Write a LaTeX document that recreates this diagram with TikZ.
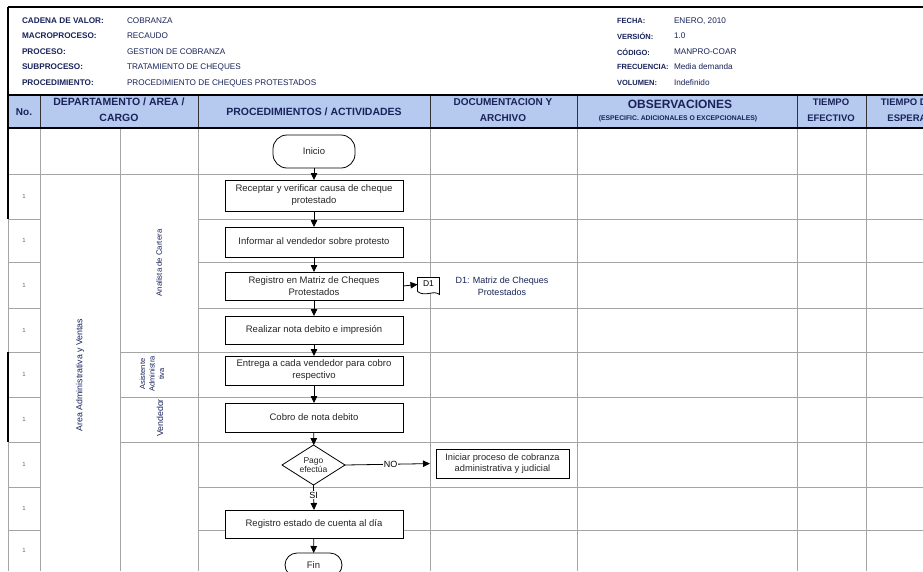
\documentclass[tikz,border=0pt]{standalone}
\usepackage{fontspec}
\setmainfont{Liberation Sans}
\usetikzlibrary{shapes.geometric,arrows.meta,calc}
\definecolor{navy}{RGB}{25,35,90}
\definecolor{hdrblue}{RGB}{182,201,238}
\definecolor{gridgray}{RGB}{165,165,165}
\newcommand{\sz}[2]{\fontsize{#1}{#2}\selectfont}
\begin{document}
\begin{tikzpicture}[x=1pt,y=-1pt,
  every node/.style={inner sep=0pt, outer sep=0pt},
  grid/.style={draw=gridgray, line width=0.7pt},
  hdrsep/.style={draw=black!80, line width=0.9pt},
  proc/.style={draw, line width=0.8pt, fill=white, minimum width=178pt, align=center, font=\sz{9.5}{12}, text=black!85},
  term/.style={draw, line width=0.8pt, fill=white, rounded corners=12pt, font=\sz{9.5}{10}, text=black!85},
  decision/.style={draw, diamond, line width=0.8pt, fill=white, minimum width=63pt, minimum height=40pt, aspect=1.6, align=center, font=\sz{8.5}{9.5}, text=black!85},
  flow/.style={-{Triangle[length=7pt,width=6.5pt]}, line width=0.8pt},
  hdr/.style={font=\bfseries\sz{10}{16}, text=navy, align=center},
  info/.style={anchor=west, font=\bfseries\sz{8.2}{9}, text=navy},
  infor/.style={anchor=west, font=\bfseries\sz{7.5}{9}, text=navy},
  infoval/.style={anchor=west, font=\sz{8.2}{9}, text=navy},
  num/.style={font=\sz{6}{7}, text=black!60},
  lane/.style={rotate=90, text=navy, align=center}
]
\useasboundingbox (0,0) rectangle (923,571);
\clip (0,0) rectangle (923,571);
\fill[white] (0,0) rectangle (923,571);

% ---------- general information block ----------
\node[info] (l1) at (22,21) {CADENA DE VALOR:};
\node[info] (l2) at (22,36) {MACROPROCESO:};
\node[info] (l3) at (22,52) {PROCESO:};
\node[info] (l4) at (22,67) {SUBPROCESO:};
\node[info] (l5) at (22,83) {PROCEDIMIENTO:};
\node[infoval] (v1) at (127,21) {COBRANZA};
\node[infoval] (v2) at (127,36) {RECAUDO};
\node[infoval] (v3) at (127,52) {GESTION DE COBRANZA};
\node[infoval] (v4) at (127,67) {TRATAMIENTO DE CHEQUES};
\node[infoval] (v5) at (127,83) {PROCEDIMIENTO DE CHEQUES PROTESTADOS};
\node[infor] (r1) at (617,21) {FECHA:};
\node[infor] (r2) at (617,36) {VERSIÓN:};
\node[infor] (r3) at (617,52) {CÓDIGO:};
\node[infor] (r4) at (617,67) {FRECUENCIA:};
\node[infor] (r5) at (617,83) {VOLUMEN:};
\node[infoval] (w1) at (674,21) {ENERO, 2010};
\node[infoval] (w2) at (674,36) {1.0};
\node[infoval] (w3) at (674,52) {MANPRO-COAR};
\node[infoval] (w4) at (674,67) {Media demanda};
\node[infoval] (w5) at (674,83) {Indefinido};

% ---------- table grid ----------
\foreach \x in {40,120,198,430,577,797,866} \draw[grid] (\x,128) -- (\x,571);
\draw[grid] (8,174) -- (923,174);
\foreach \y in {219,262,308,352,397,442,487,530} {
  \draw[grid] (8,\y) -- (40,\y);
  \draw[grid] (198,\y) -- (923,\y);
}
\foreach \y in {352,397,442} \draw[grid] (120,\y) -- (198,\y);

% ---------- column headings ----------
\fill[hdrblue] (8,95) rectangle (923,128);
\foreach \x in {40,198,430,577,797,866} \draw[hdrsep] (\x,95) -- (\x,128);
\draw[line width=2.5pt] (8,7) -- (923,7);
\draw[line width=1.8pt] (8,95) -- (923,95);
\draw[line width=2.8pt] (8,128) -- (923,128);
\draw[line width=2.5pt] (8,7) -- (8,219);
\draw[grid] (8,219) -- (8,352);
\draw[line width=2.5pt] (8,352) -- (8,442);
\draw[grid] (8,442) -- (8,571);

\node[hdr] (h1) at (24,112) {No.};
\node[hdr, font=\bfseries\sz{10.5}{16}] (h2) at (119,110) {DEPARTAMENTO / AREA /\\CARGO};
\node[hdr, font=\bfseries\sz{10.5}{16}] (h3) at (314,112) {PROCEDIMIENTOS / ACTIVIDADES};
\node[hdr] (h4) at (503,110) {DOCUMENTACION Y\\ARCHIVO};
\node[hdr, font=\bfseries\sz{12}{13}] (h5) at (680,104) {OBSERVACIONES};
\node[hdr, font=\bfseries\sz{6.8}{7}] (h5b) at (678,119) {(ESPECIFIC. ADICIONALES O EXCEPCIONALES)};
\node[hdr, font=\bfseries\sz{9.5}{16}] (h6) at (831,110) {TIEMPO\\EFECTIVO};
\node[hdr, font=\bfseries\sz{9.5}{16}] (h7) at (907,110) {TIEMPO DE\\ESPERA};

% ---------- row numbers ----------
\foreach \y [count=\i] in {196.5,240.5,285,330,374.5,419.5,464.5,508.5,550.5}
  \node[num] (n\i) at (24,\y) {1};

% ---------- responsible areas ----------
\node[lane, font=\sz{8.8}{10}] (area) at (80,375) {Area Administrativa y Ventas};
\node[lane, font=\sz{7.8}{9}] (c1) at (159,263) {Analista de Cartera};
\node[lane, font=\sz{7.5}{9.5}] (c2) at (152,374) {Asistente\\Administra\\tiva};
\node[lane, font=\sz{8.8}{10}] (c3) at (160,418) {Vendedor};

% ---------- flow ----------
\node[term, minimum width=82pt, minimum height=33pt, rounded corners=14pt] (ini) at (314,151.5) {Inicio};
\node[proc, minimum height=31pt] (b1) at (314,195.5) {Receptar y verificar causa de cheque\\protestado};
\node[proc, minimum height=30pt] (b2) at (314,242) {Informar al vendedor sobre protesto};
\node[proc, minimum height=28pt] (b3) at (314,286) {Registro en Matriz de Cheques\\Protestados};
\node[proc, minimum height=28pt] (b4) at (314,330) {Realizar nota debito e impresión};
\node[proc, minimum height=29pt] (b5) at (314,370.5) {Entrega a cada vendedor para cobro\\respectivo};
\node[proc, minimum height=29pt] (b6) at (314,417.5) {Cobro de nota debito};
\node[decision] (dec) at (313.5,465) {Pago\\efectúa};
\node[proc, minimum height=28pt] (b7) at (314,524) {Registro estado de cuenta al día};
\node[term, minimum width=57pt, minimum height=24pt] (fin) at (313.5,565) {Fin};

% document symbol and its description
\node[minimum width=22pt, minimum height=14pt] (d1) at (428.5,284.5) {};
\draw[line width=0.8pt, fill=white]
  (d1.south west) -- (d1.north west) -- (d1.north east) -- ($(d1.south east)+(0,3)$)
  .. controls ($(d1.south east)+(-6,-2)$) and ($(d1.south west)+(8,6)$) .. (d1.south west);
\node[font=\sz{8.5}{11}] (d1txt) at ($(d1)+(0,-1)$) {D1};
\node[font=\sz{9}{11.5}, text=navy, align=center] (doc) at (502,286.5) {D1: Matriz de Cheques\\Protestados};

\node[proc, minimum width=133pt, minimum height=29pt, font=\sz{9.3}{11.5}] (alt) at (502.5,463.5) {Iniciar proceso de cobranza\\administrativa y judicial};

\draw[flow] (ini) -- (b1);
\draw[flow] (b1) -- (b2);
\draw[flow] (b2) -- (b3);
\draw[flow] (b3) -- (b4);
\draw[flow] (b4) -- (b5);
\draw[flow] (b5) -- (b6);
\draw[flow] (b6) -- (dec);
\draw[flow] (b3.east) -- (d1.west);
\draw[flow, shorten >=6pt] (dec.east) -- node[fill=white, inner sep=1pt, font=\sz{9}{10}] (no) {NO} (alt.west);
\draw[flow] (dec.south) -- node[pos=0.4, fill=white, inner sep=1pt, font=\sz{9}{10}] (si) {SI} (b7.north);
\draw[flow] (b7) -- (fin);
\end{tikzpicture}
\end{document}
